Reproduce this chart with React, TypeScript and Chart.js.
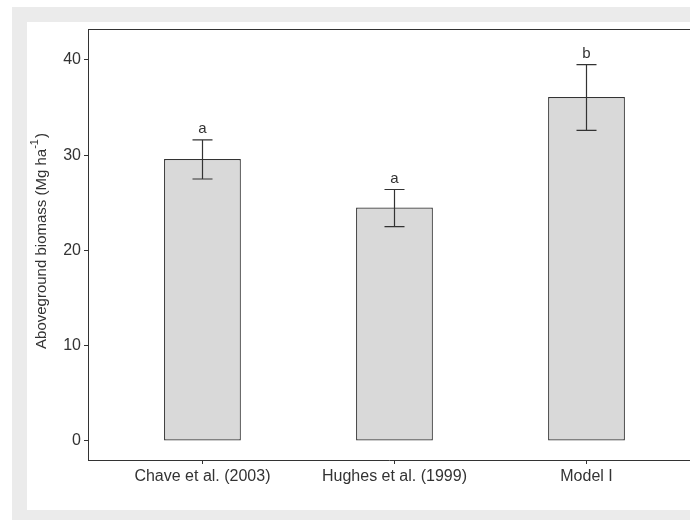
import React, { useEffect, useRef } from "react";
import { Chart, registerables } from "chart.js";

Chart.register(...registerables);

const categories = ["Chave et al. (2003)", "Hughes et al. (1999)", "Model I"];
const means = [29.6, 24.5, 36.1];
const upper = [31.6, 26.4, 39.5];
const lower = [27.5, 22.5, 32.6];
const letters = ["a", "a", "b"];
const yTicks = [0, 10, 20, 30, 40];

const FONT = "'Liberation Sans', Arial, sans-serif";
const INK = "#333333";

const extras = {
  id: "extras",
  afterDatasetsDraw(chart: any) {
    const { ctx, scales } = chart;
    const xs = scales.x;
    const ys = scales.y;
    ctx.save();
    ctx.strokeStyle = INK;
    ctx.lineWidth = 1.2;
    for (let i = 0; i < means.length; i++) {
      const px = Math.round(xs.getPixelForValue(i)) + 0.5;
      const pt = ys.getPixelForValue(upper[i]);
      const pb = ys.getPixelForValue(lower[i]);
      ctx.beginPath();
      ctx.moveTo(px, pt);
      ctx.lineTo(px, pb);
      ctx.moveTo(px - 10, pt);
      ctx.lineTo(px + 10, pt);
      ctx.moveTo(px - 10, pb);
      ctx.lineTo(px + 10, pb);
      ctx.stroke();
      ctx.fillStyle = INK;
      ctx.font = `15px ${FONT}`;
      ctx.textAlign = "center";
      ctx.textBaseline = "middle";
      ctx.fillText(letters[i], px, pt - 11);
    }
    ctx.restore();
  },
  afterDraw(chart: any) {
    const { ctx, chartArea } = chart;
    ctx.save();
    ctx.strokeStyle = INK;
    ctx.lineWidth = 1;
    ctx.beginPath();
    ctx.moveTo(chartArea.left, Math.round(chartArea.top) + 0.5);
    ctx.lineTo(chartArea.right, Math.round(chartArea.top) + 0.5);
    ctx.stroke();

    // y-axis title with superscript
    const main = "Aboveground biomass (Mg ha";
    const sup = "-1";
    const end = ")";
    ctx.fillStyle = INK;
    ctx.font = `15px ${FONT}`;
    const w1 = ctx.measureText(main).width;
    const w3 = ctx.measureText(end).width;
    ctx.font = `11px ${FONT}`;
    const w2 = ctx.measureText(sup).width;
    const total = w1 + w2 + w3 + 1;
    const cy = 241;
    ctx.translate(46, cy);
    ctx.rotate(-Math.PI / 2);
    ctx.textAlign = "left";
    ctx.textBaseline = "alphabetic";
    let x0 = -total / 2;
    ctx.font = `15px ${FONT}`;
    ctx.fillText(main, x0, 0);
    x0 += w1;
    ctx.font = `11px ${FONT}`;
    ctx.fillText(sup, x0, -8);
    x0 += w2 + 1;
    ctx.font = `15px ${FONT}`;
    ctx.fillText(end, x0, 0);
    ctx.restore();
  },
};

export default function App() {
  const ref = useRef<HTMLCanvasElement | null>(null);
  useEffect(() => {
    if (!ref.current) return;
    const chart = new Chart(ref.current, {
      type: "bar",
      data: {
        datasets: [
          {
            data: means.map((v, i) => ({ x: i, y: v })),
            backgroundColor: "#d9d9d9",
            borderColor: INK,
            borderWidth: 1.2,
            borderSkipped: false,
            barPercentage: 0.4,
            categoryPercentage: 1,
          },
        ],
      },
      options: {
        animation: false,
        responsive: false,
        events: [],
        layout: { padding: { top: 29, left: 0, right: 0, bottom: 0 } },
        plugins: { legend: { display: false }, tooltip: { enabled: false } },
        scales: {
          x: {
            type: "linear",
            offset: false,
            min: -0.596,
            max: 2.539,
            afterBuildTicks: (s: any) => {
              s.ticks = categories.map((_, i) => ({ value: i }));
            },
            afterFit: (s: any) => {
              s.height = 60;
            },
            grid: { display: true, offset: false, drawOnChartArea: false, drawTicks: true, tickLength: 4, color: INK },
            border: { display: true, color: INK, width: 1 },
            ticks: {
              color: INK,
              font: { family: FONT, size: 16 },
              padding: 3,
              maxRotation: 0,
              autoSkip: false,
              callback: (v: any) => categories[v] ?? "",
            },
          },
          y: {
            type: "linear",
            min: -2,
            max: 43.25,
            afterBuildTicks: (s: any) => {
              s.ticks = yTicks.map((v) => ({ value: v }));
            },
            afterFit: (s: any) => {
              s.width = 88;
            },
            grid: { display: true, drawOnChartArea: false, drawTicks: true, tickLength: 4, color: INK },
            border: { display: true, color: INK, width: 1 },
            ticks: {
              color: INK,
              font: { family: FONT, size: 16 },
              padding: 3,
            },
          },
        },
      },
      plugins: [extras],
    });
    return () => chart.destroy();
  }, []);

  return (
    <div style={{ position: "fixed", left: 0, top: 0, width: 690, height: 520, background: "#ffffff", overflow: "hidden" }}>
      <div style={{ position: "absolute", left: 12, top: 7, width: 678, height: 513, background: "#ebebeb" }} />
      <div style={{ position: "absolute", left: 27, top: 22, width: 663, height: 488, background: "#ffffff" }} />
      <canvas ref={ref} width={690} height={520} style={{ position: "absolute", left: 0, top: 0, width: 690, height: 520 }} />
    </div>
  );
}
